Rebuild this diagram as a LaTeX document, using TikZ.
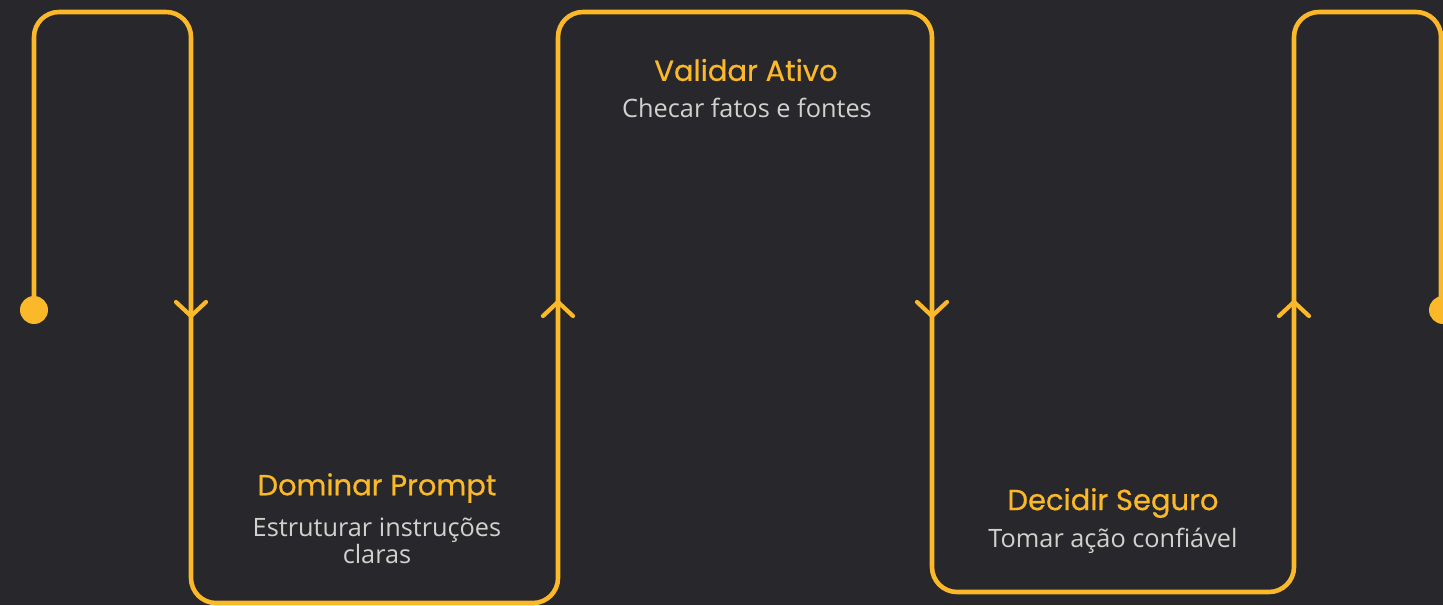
\documentclass[tikz,border=0pt]{standalone}
\usepackage{fontspec}
\setmainfont{Open Sans}
\newfontfamily\titlefont[FakeBold=0.6]{Poppins}
\definecolor{bg}{HTML}{27272C}
\definecolor{gold}{HTML}{FBB829}
\definecolor{soft}{HTML}{D3D1CD}
\tikzset{
  track/.style={gold, line width=2.6pt, rounded corners=0.5cm},
  chevron/.style={gold, line width=2.4pt, line cap=round, line join=round},
  title/.style={text=gold, font=\titlefont\fontsize{16.5}{19}\selectfont},
  sub/.style={text=soft, font=\fontsize{14.4}{13}\selectfont, align=center},
}
\begin{document}
\begin{tikzpicture}[x=0.02cm, y=-0.02cm]
\fill[bg] (0,0) rectangle (1443,605);
\clip (0,0) rectangle (1443,605);
% the track
\coordinate (start) at (34,310);
\coordinate (stop) at (1443,310);
\draw[track] (start) -- (34,12) -- (191,12) -- (191,603) -- (558,603) -- (558,12) -- (932,12) -- (932,592) -- (1294,592) -- (1294,12) -- (1441,12) -- (1441,310);
\fill[gold] (start) circle (0.28cm) (stop) circle (0.28cm);
% arrow marks, 1 = down, -1 = up
\foreach \x/\d in {191/1, 558/-1, 932/1, 1294/-1} {
	\draw[chevron] (\x-15, 309-7*\d) -- (\x, 309+7*\d) -- (\x+15, 309-7*\d);
	};
% labels
\node[title] (dominar) at (377,488) {Dominar Prompt};
\node[sub] (dominarsub) at (377,541) {Estruturar instruções\\claras};
\node[title] (validar) at (746,70) {Validar Ativo};
\node[sub] (validarsub) at (747,108) {Checar fatos e fontes};
\node[title] (decidir) at (1113,503) {Decidir Seguro};
\node[sub] (decidirsub) at (1113,541) {Tomar ação confiável};
\end{tikzpicture}
\end{document}
